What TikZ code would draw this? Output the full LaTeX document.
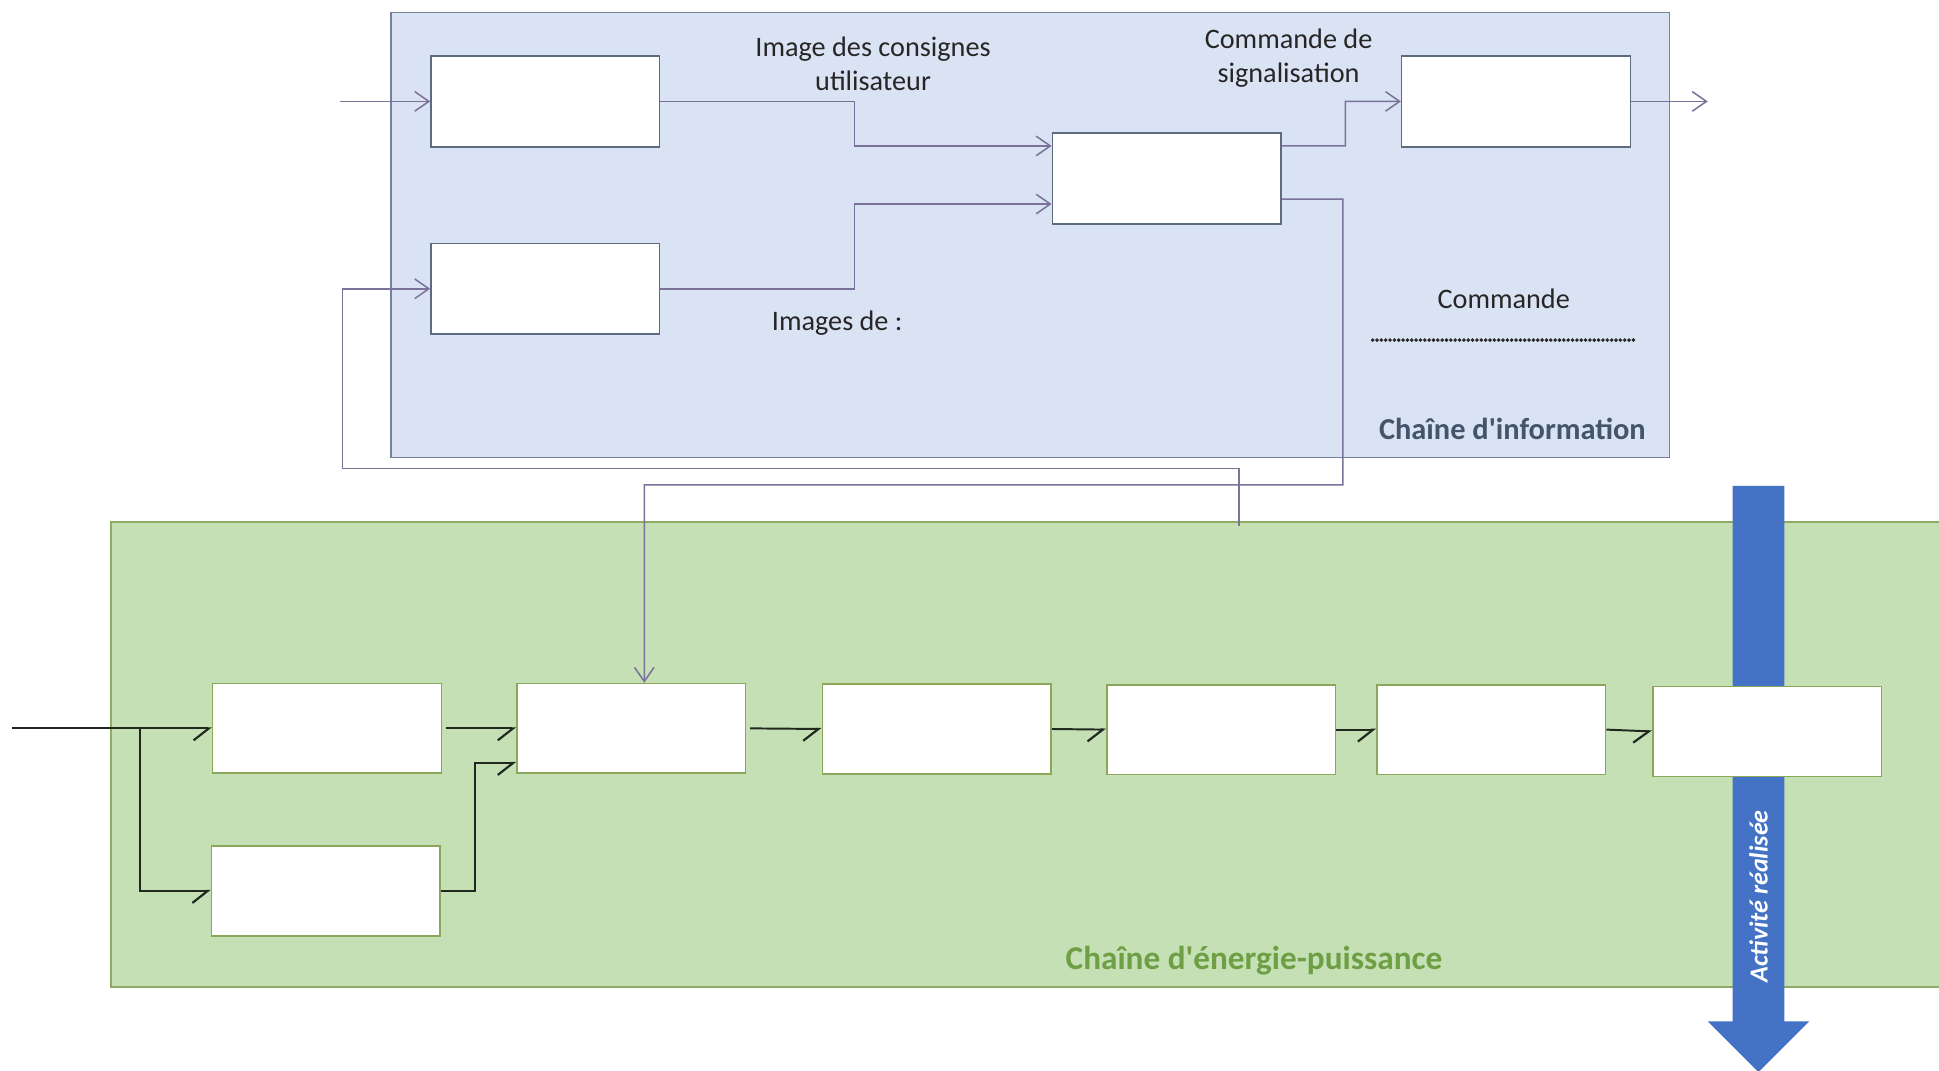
\documentclass[tikz,border=0pt]{standalone}
\usepackage{fontspec}
\setmainfont{Carlito}
\usetikzlibrary{arrows.meta,calc}
\definecolor{infofill}{HTML}{DAE3F3}
\definecolor{infoborder}{HTML}{75809B}
\definecolor{infobox}{HTML}{5E6A80}
\definecolor{infoline}{HTML}{7A7299}
\definecolor{infotitle}{HTML}{44546A}
\definecolor{enfill}{HTML}{C5E0B4}
\definecolor{enborder}{HTML}{8FAA62}
\definecolor{enbox}{HTML}{8CA65A}
\definecolor{entitle}{HTML}{6F9F45}
\definecolor{enline}{HTML}{202820}
\definecolor{bigarrow}{HTML}{4472C4}
\begin{document}
\begin{tikzpicture}[x=0.02cm,y=-0.02cm,
  infobx/.style={draw=infobox,fill=white,line width=0.7pt,inner sep=0pt,minimum width=3.7cm,minimum height=1.47cm},
  enbx/.style={draw=enbox,fill=white,line width=0.7pt,inner sep=0pt,minimum width=3.7cm,minimum height=1.45cm},
  iline/.style={draw=infoline,line width=0.7pt,-{Straight Barb[length=6.5pt,width=9pt,line width=0.7pt]}},
  eline/.style={draw=enline,line width=0.9pt,-{Straight Barb[harpoon,swap,length=7pt,width=11pt,line width=1pt]}},
  eplain/.style={draw=enline,line width=0.9pt},
  lbl/.style={font=\fontsize{13}{15.5}\selectfont,align=center,inner sep=0pt,text=black!85}
]
\useasboundingbox (0,0) rectangle (1568,866);
\clip (0,0) rectangle (1568,866);
\fill[white] (0,0) rectangle (1568,866);

% containers
\filldraw[fill=infofill,draw=infoborder,line width=0.8pt] (316,10) rectangle (1350,370);
\fill[enfill] (90,422) rectangle (1580,798);
\draw[enborder,line width=0.8pt] (1580,422) -- (90,422) -- (90,798) -- (1580,798);

% big arrow
\fill[bigarrow] (1401,393) -- (1443,393) -- (1443,826) -- (1463,826) -- (1422,867) -- (1381,826) -- (1401,826) -- cycle;
\node[rotate=90,text=white,font=\fontsize{12}{14}\selectfont\bfseries\itshape,inner sep=0pt] (act) at (1422,725) {Activité réalisée};

% information chain boxes
\node[infobx] (A1) at (441,82) {};
\node[infobx] (A2) at (441,233.5) {};
\node[infobx] (B) at (943.5,144.5) {};
\node[infobx] (C) at (1226,82) {};

% energy chain boxes
\node[enbx] (E1) at (264.5,589) {};
\node[enbx] (E2) at (510.5,589) {};
\node[enbx] (E3) at (757.5,589.5) {};
\node[enbx] (E4) at (987.5,590) {};
\node[enbx] (E5) at (1206,590) {};
\node[enbx] (E6) at (1429,591.5) {};
\node[enbx] (E7) at (263.5,720.5) {};

% coordinates
\coordinate (in1) at (275,82);
\coordinate (out1) at (1381,82);
\coordinate (fb) at (1002,425);
\coordinate (in2) at (10,589);
\coordinate (br) at (113,589);

% information connectors
\draw[iline] (in1) -- (A1.west);
\draw[iline] (A1.east) -- (691,82) |- ([yshift=0.53cm]B.west);
\draw[iline] (A2.east) -- (691,233.5) |- ([yshift=-0.41cm]B.west);
\draw[iline] ([yshift=0.53cm]B.east) -- (1088,118) |- (C.west);
\draw[iline] (C.east) -- (out1);
\draw[iline] ([yshift=-0.33cm]B.east) -- (1086,161) -- (1086,392) -| ([xshift=0.21cm]E2.north);
\draw[iline] (fb) |- (277,379) |- (A2.west);

% energy connectors
\draw[eplain] (in2) -- (br);
\draw[eline] (br) -- (E1.west);
\draw[eline] (br) |- (E7.west);
\draw[eline] ([xshift=0.06cm]E1.east) -- (E2.west);
\draw[eline] (E7.east) -- (384,720.5) |- ([yshift=-0.56cm]E2.west);
\draw[eline] ([xshift=0.06cm]E2.east) -- (E3.west);
\draw[eline] (E3.east) -- (E4.west);
\draw[eline] (E4.east) -- (E5.west);
\draw[eline] (E5.east) -- (E6.west);

% labels
\node[lbl] (l1) at (706,51.5) {Image des consignes\\utilisateur};
\node[lbl] (l2) at (1042,47) {Commande de\\signalisation};
\node[lbl] (l3) at (677,261) {Images de :};
\node[lbl] (l4) at (1216,242) {Commande};
\draw[black!85,line width=1.8pt,line cap=round,dash pattern=on 0pt off 2pt] (1110,275) -- (1322,275);
\node[font=\fontsize{14}{16}\selectfont\bfseries,text=infotitle,inner sep=0pt] (t1) at (1223,347) {Chaîne d\textquotesingle information};
\node[font=\fontsize{15.3}{17}\selectfont\bfseries,text=entitle,inner sep=0pt] (t2) at (1014,777) {Chaîne d\textquotesingle énergie-puissance};
\end{tikzpicture}
\end{document}
